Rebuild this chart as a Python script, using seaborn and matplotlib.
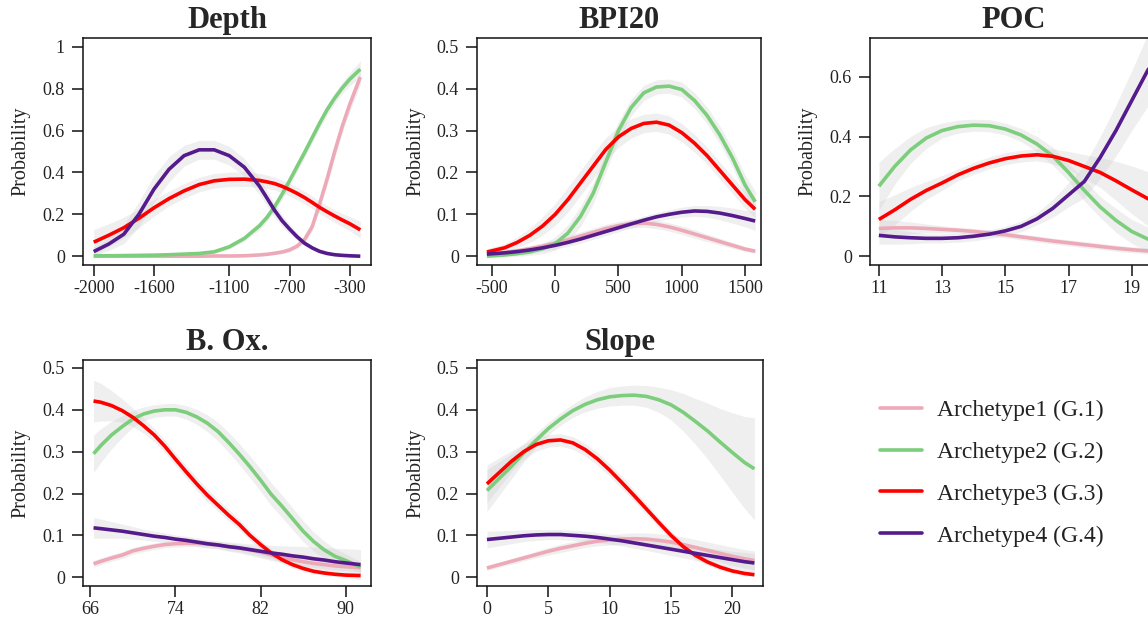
import matplotlib
matplotlib.use("Agg")
import matplotlib.pyplot as plt
import pandas as pd
import seaborn as sns
from matplotlib.lines import Line2D

# ---------------- data ----------------
series_labels = ["Archetype1 (G.1)", "Archetype2 (G.2)", "Archetype3 (G.3)", "Archetype4 (G.4)"]
series_colors = ["#EEA9B8", "#7CCD7C", "#FF0000", "#551A8B"]
panel_titles = ["Depth", "BPI20", "POC", "B. Ox.", "Slope"]
y_label = "Probability"

# Depth
depth_x = [-2000, -1900, -1800, -1700, -1600, -1500, -1400, -1300, -1200, -1100, -1000, -900,
           -850, -800, -750, -700, -650, -600, -550, -500, -450, -400, -350, -300, -230]
depth_g1 = [0, 0, 0, 0, 0, 0, 0, 0, 0.001, 0.001, 0.002, 0.006,
            0.009, 0.014, 0.02, 0.03, 0.048, 0.08, 0.14, 0.25, 0.37, 0.5, 0.62, 0.725, 0.855]
depth_g2 = [0.002, 0.002, 0.003, 0.004, 0.005, 0.007, 0.01, 0.013, 0.021, 0.045, 0.085, 0.145,
            0.185, 0.235, 0.295, 0.36, 0.428, 0.495, 0.565, 0.635, 0.7, 0.755, 0.803, 0.845, 0.893]
depth_g3 = [0.067, 0.1, 0.136, 0.181, 0.231, 0.275, 0.312, 0.342, 0.36, 0.367, 0.368, 0.362,
            0.355, 0.347, 0.334, 0.318, 0.3, 0.28, 0.257, 0.233, 0.212, 0.192, 0.173, 0.155, 0.126]
depth_g4 = [0.022, 0.058, 0.105, 0.2, 0.32, 0.415, 0.48, 0.508, 0.508, 0.48, 0.425, 0.335,
            0.278, 0.22, 0.17, 0.13, 0.093, 0.062, 0.04, 0.023, 0.013, 0.007, 0.004, 0.002, 0.0]
depth_g1_ci = [0.002, 0.002, 0.002, 0.002, 0.002, 0.002, 0.002, 0.002, 0.002, 0.002, 0.003, 0.004,
               0.005, 0.006, 0.008, 0.01, 0.013, 0.016, 0.02, 0.024, 0.028, 0.03, 0.032, 0.033, 0.035]
depth_g2_ci = [0.003, 0.003, 0.003, 0.003, 0.004, 0.004, 0.005, 0.006, 0.008, 0.01, 0.014, 0.018,
               0.02, 0.022, 0.024, 0.025, 0.025, 0.025, 0.025, 0.025, 0.025, 0.025, 0.027, 0.03, 0.04]
depth_g3_ci = [0.06, 0.055, 0.05, 0.045, 0.04, 0.035, 0.035, 0.035, 0.035, 0.035, 0.035, 0.033,
               0.032, 0.031, 0.03, 0.03, 0.03, 0.03, 0.03, 0.03, 0.03, 0.03, 0.032, 0.034, 0.04]
depth_g4_ci = [0.02, 0.03, 0.045, 0.06, 0.065, 0.06, 0.05, 0.045, 0.045, 0.045, 0.042, 0.04,
               0.037, 0.033, 0.028, 0.023, 0.018, 0.013, 0.009, 0.006, 0.004, 0.003, 0.002, 0.001, 0.001]

# BPI20
bpi_x = [-540, -400, -300, -200, -100, 0, 100, 200, 300, 400, 500, 600, 700, 800, 900, 1000,
         1100, 1200, 1300, 1400, 1500, 1580]
bpi_g1 = [0.005, 0.009, 0.013, 0.018, 0.024, 0.031, 0.039, 0.048, 0.057, 0.066, 0.073, 0.078,
          0.079, 0.076, 0.07, 0.062, 0.053, 0.044, 0.035, 0.026, 0.017, 0.012]
bpi_g2 = [0.0, 0.003, 0.006, 0.01, 0.018, 0.03, 0.055, 0.095, 0.15, 0.225, 0.3, 0.355,
          0.39, 0.404, 0.406, 0.398, 0.372, 0.336, 0.29, 0.235, 0.17, 0.13]
bpi_g3 = [0.01, 0.02, 0.033, 0.05, 0.072, 0.1, 0.135, 0.175, 0.215, 0.255, 0.285, 0.305,
          0.317, 0.32, 0.313, 0.295, 0.27, 0.24, 0.205, 0.17, 0.135, 0.112]
bpi_g4 = [0.005, 0.008, 0.011, 0.015, 0.02, 0.026, 0.033, 0.041, 0.05, 0.059, 0.068, 0.077,
          0.086, 0.094, 0.1, 0.105, 0.108, 0.107, 0.103, 0.097, 0.09, 0.084]
bpi_g1_ci = [0.004, 0.005, 0.006, 0.007, 0.008, 0.009, 0.01, 0.01, 0.01, 0.01, 0.01, 0.01,
             0.01, 0.01, 0.01, 0.01, 0.01, 0.009, 0.008, 0.007, 0.006, 0.005]
bpi_g2_ci = [0.003, 0.005, 0.006, 0.008, 0.012, 0.016, 0.02, 0.024, 0.025, 0.024, 0.022, 0.02,
             0.018, 0.017, 0.017, 0.018, 0.019, 0.02, 0.021, 0.022, 0.024, 0.025]
bpi_g3_ci = [0.008, 0.01, 0.013, 0.017, 0.022, 0.026, 0.03, 0.03, 0.03, 0.028, 0.025, 0.023,
             0.022, 0.022, 0.022, 0.022, 0.021, 0.02, 0.02, 0.02, 0.02, 0.02]
bpi_g4_ci = [0.004, 0.005, 0.006, 0.007, 0.008, 0.009, 0.01, 0.01, 0.01, 0.01, 0.01, 0.01,
             0.01, 0.01, 0.011, 0.012, 0.013, 0.014, 0.016, 0.018, 0.02, 0.022]

# POC
poc_x = [11, 11.5, 12, 12.5, 13, 13.5, 14, 14.5, 15, 15.5, 16, 16.5, 17, 17.5, 18, 18.5, 19, 19.5, 19.8]
poc_g1 = [0.093, 0.095, 0.095, 0.093, 0.09, 0.087, 0.083, 0.078, 0.072, 0.065, 0.058, 0.051,
          0.045, 0.039, 0.033, 0.027, 0.022, 0.018, 0.016]
poc_g2 = [0.234, 0.3, 0.355, 0.395, 0.42, 0.433, 0.438, 0.436, 0.425, 0.405, 0.375, 0.335,
          0.28, 0.22, 0.165, 0.12, 0.083, 0.058, 0.05]
poc_g3 = [0.123, 0.155, 0.19, 0.22, 0.245, 0.272, 0.294, 0.312, 0.326, 0.335, 0.339, 0.334,
          0.32, 0.3, 0.28, 0.252, 0.222, 0.193, 0.178]
poc_g4 = [0.07, 0.065, 0.062, 0.06, 0.06, 0.062, 0.067, 0.074, 0.085, 0.1, 0.125, 0.16,
          0.205, 0.25, 0.33, 0.42, 0.52, 0.62, 0.67]
poc_g1_ci = [0.03, 0.025, 0.02, 0.015, 0.012, 0.01, 0.01, 0.01, 0.01, 0.01, 0.01, 0.01,
             0.01, 0.01, 0.01, 0.01, 0.01, 0.01, 0.01]
poc_g2_ci = [0.08, 0.06, 0.045, 0.035, 0.025, 0.022, 0.02, 0.02, 0.02, 0.022, 0.025, 0.03,
             0.03, 0.035, 0.035, 0.04, 0.04, 0.04, 0.04]
poc_g3_ci = [0.06, 0.05, 0.04, 0.03, 0.025, 0.02, 0.02, 0.02, 0.02, 0.02, 0.02, 0.025,
             0.03, 0.04, 0.05, 0.065, 0.08, 0.09, 0.095]
poc_g4_ci = [0.03, 0.025, 0.02, 0.015, 0.015, 0.015, 0.015, 0.015, 0.015, 0.018, 0.02, 0.03,
             0.04, 0.055, 0.07, 0.085, 0.1, 0.12, 0.13]

# B. Ox.
box_x = [66.3, 67, 68, 69, 70, 71, 72, 73, 74, 75, 76, 77, 78, 79, 80, 81, 82, 83, 84, 85,
         86, 87, 88, 89, 90, 91.4]
box_g1 = [0.032, 0.038, 0.046, 0.053, 0.063, 0.069, 0.074, 0.078, 0.08, 0.081, 0.081, 0.079,
          0.077, 0.073, 0.07, 0.065, 0.06, 0.053, 0.047, 0.042, 0.037, 0.033, 0.03, 0.027, 0.025, 0.023]
box_g2 = [0.295, 0.315, 0.34, 0.36, 0.378, 0.39, 0.397, 0.4, 0.4, 0.394, 0.383, 0.368,
          0.348, 0.322, 0.294, 0.264, 0.232, 0.198, 0.17, 0.14, 0.11, 0.085, 0.065, 0.05, 0.04, 0.024]
box_g3 = [0.421, 0.418, 0.41, 0.398, 0.382, 0.362, 0.34, 0.313, 0.282, 0.252, 0.223, 0.196,
          0.172, 0.148, 0.126, 0.1, 0.078, 0.058, 0.042, 0.03, 0.021, 0.014, 0.01, 0.007, 0.005, 0.004]
box_g4 = [0.118, 0.116, 0.113, 0.11, 0.106, 0.102, 0.098, 0.095, 0.091, 0.088, 0.084, 0.08,
          0.077, 0.073, 0.07, 0.066, 0.062, 0.058, 0.055, 0.051, 0.048, 0.044, 0.041, 0.037, 0.034, 0.03]
box_g1_ci = [0.008, 0.008, 0.008, 0.008, 0.008, 0.008, 0.008, 0.008, 0.008, 0.008, 0.008, 0.008,
             0.008, 0.009, 0.009, 0.01, 0.01, 0.01, 0.01, 0.01, 0.01, 0.01, 0.01, 0.01, 0.01, 0.01]
box_g2_ci = [0.045, 0.04, 0.033, 0.026, 0.02, 0.017, 0.015, 0.015, 0.015, 0.016, 0.018, 0.02,
             0.022, 0.024, 0.025, 0.026, 0.027, 0.027, 0.027, 0.026, 0.025, 0.023, 0.021, 0.018, 0.016, 0.014]
box_g3_ci = [0.05, 0.045, 0.036, 0.028, 0.022, 0.018, 0.016, 0.015, 0.015, 0.015, 0.015, 0.015,
             0.014, 0.014, 0.013, 0.012, 0.011, 0.01, 0.009, 0.008, 0.007, 0.006, 0.005, 0.005, 0.004, 0.004]
box_g4_ci = [0.025, 0.023, 0.02, 0.017, 0.015, 0.013, 0.012, 0.011, 0.01, 0.01, 0.01, 0.01,
             0.01, 0.011, 0.012, 0.014, 0.016, 0.018, 0.02, 0.023, 0.026, 0.028, 0.03, 0.032, 0.034, 0.036]

# Slope
slope_x = [0, 1, 2, 3, 4, 5, 6, 7, 8, 9, 10, 11, 12, 13, 14, 15, 16, 17, 18, 19, 20, 21, 21.8]
slope_g1 = [0.022, 0.03, 0.038, 0.046, 0.054, 0.062, 0.069, 0.075, 0.081, 0.086, 0.089, 0.091,
            0.092, 0.091, 0.088, 0.084, 0.078, 0.071, 0.064, 0.057, 0.05, 0.044, 0.04]
slope_g2 = [0.207, 0.236, 0.265, 0.297, 0.327, 0.355, 0.378, 0.398, 0.413, 0.424, 0.431, 0.434,
            0.435, 0.432, 0.424, 0.412, 0.394, 0.372, 0.349, 0.323, 0.298, 0.274, 0.259]
slope_g3 = [0.223, 0.25, 0.277, 0.3, 0.317, 0.326, 0.328, 0.321, 0.305, 0.283, 0.256, 0.226,
            0.195, 0.163, 0.131, 0.1, 0.073, 0.052, 0.036, 0.024, 0.015, 0.009, 0.006]
slope_g4 = [0.09, 0.093, 0.096, 0.099, 0.101, 0.102, 0.102, 0.1, 0.098, 0.095, 0.091, 0.087,
            0.082, 0.077, 0.072, 0.067, 0.062, 0.057, 0.052, 0.047, 0.042, 0.037, 0.034]
slope_g1_ci = [0.006, 0.006, 0.007, 0.007, 0.008, 0.009, 0.01, 0.01, 0.01, 0.011, 0.012, 0.013,
               0.014, 0.015, 0.016, 0.017, 0.018, 0.019, 0.02, 0.021, 0.022, 0.022, 0.023]
slope_g2_ci = [0.05, 0.04, 0.03, 0.022, 0.017, 0.015, 0.015, 0.016, 0.018, 0.02, 0.022, 0.023,
               0.024, 0.026, 0.03, 0.036, 0.045, 0.055, 0.067, 0.08, 0.095, 0.11, 0.122]
slope_g3_ci = [0.045, 0.035, 0.025, 0.018, 0.016, 0.015, 0.015, 0.015, 0.015, 0.015, 0.015, 0.015,
               0.014, 0.013, 0.012, 0.011, 0.01, 0.009, 0.008, 0.007, 0.006, 0.005, 0.005]
slope_g4_ci = [0.02, 0.018, 0.016, 0.014, 0.013, 0.012, 0.012, 0.012, 0.012, 0.012, 0.012, 0.012,
               0.013, 0.013, 0.014, 0.015, 0.016, 0.017, 0.018, 0.019, 0.02, 0.022, 0.023]

depth_xticks = [-2000, -1600, -1100, -700, -300]
bpi_xticks = [-500, 0, 500, 1000, 1500]
poc_xticks = [11, 13, 15, 17, 19]
box_xticks = [66, 74, 82, 90]
slope_xticks = [0, 5, 10, 15, 20]
depth_yticks = [0, 0.2, 0.4, 0.6, 0.8, 1]
bpi_yticks = [0, 0.1, 0.2, 0.3, 0.4, 0.5]
poc_yticks = [0, 0.2, 0.4, 0.6]
box_yticks = [0, 0.1, 0.2, 0.3, 0.4, 0.5]
slope_yticks = [0, 0.1, 0.2, 0.3, 0.4, 0.5]

# ---------------- style ----------------
sns.set_style("ticks")
plt.rcParams["font.family"] = ["Liberation Serif", "DejaVu Serif"]
plt.rcParams["axes.linewidth"] = 1.1

W, H = 1148, 625
fig = plt.figure(figsize=(W / 100, H / 100), dpi=100)


def rect(l, t, r, b):
    return [l / W, 1 - b / H, (r - l) / W, (b - t) / H]


panels = [
    (panel_titles[0], depth_x, [depth_g1, depth_g2, depth_g3, depth_g4],
     [depth_g1_ci, depth_g2_ci, depth_g3_ci, depth_g4_ci], depth_xticks, depth_yticks,
     (-2071, -159), (-0.042, 1.042), rect(83, 38, 371, 265)),
    (panel_titles[1], bpi_x, [bpi_g1, bpi_g2, bpi_g3, bpi_g4],
     [bpi_g1_ci, bpi_g2_ci, bpi_g3_ci, bpi_g4_ci], bpi_xticks, bpi_yticks,
     (-618, 1626), (-0.021, 0.521), rect(477, 38, 761, 265)),
    (panel_titles[2], poc_x, [poc_g1, poc_g2, poc_g3, poc_g4],
     [poc_g1_ci, poc_g2_ci, poc_g3_ci, poc_g4_ci], poc_xticks, poc_yticks,
     (10.72, 19.83), (-0.029, 0.729), rect(870, 38, 1158, 265)),
    (panel_titles[3], box_x, [box_g1, box_g2, box_g3, box_g4],
     [box_g1_ci, box_g2_ci, box_g3_ci, box_g4_ci], box_xticks, box_yticks,
     (65.31, 92.38), (-0.021, 0.519), rect(83, 360, 371, 586)),
    (panel_titles[4], slope_x, [slope_g1, slope_g2, slope_g3, slope_g4],
     [slope_g1_ci, slope_g2_ci, slope_g3_ci, slope_g4_ci], slope_xticks, slope_yticks,
     (-0.81, 22.5), (-0.021, 0.519), rect(477, 360, 763, 586)),
]

for title, xs, ys, cis, xt, yt, xl, yl, r in panels:
    ax = fig.add_axes(r)
    frames = []
    for lab, y, ci in zip(series_labels, ys, cis):
        frames.append(pd.DataFrame({"x": xs, "p": y, "ci": ci, "series": lab}))
    df = pd.concat(frames, ignore_index=True)
    df["lo"] = df["p"] - df["ci"]
    df["hi"] = df["p"] + df["ci"]
    for lab in series_labels:
        d = df[df["series"] == lab]
        ax.fill_between(d["x"], d["lo"], d["hi"], color="#cfcfcf", alpha=0.32, lw=0, zorder=1)
    sns.lineplot(data=df, x="x", y="p", hue="series", hue_order=series_labels,
                 palette=series_colors, linewidth=2.6, legend=False, ax=ax,
                 estimator=None, sort=False, zorder=3,
                 solid_joinstyle="round", solid_capstyle="butt")
    ax.set_xlim(*xl)
    ax.set_ylim(*yl)
    ax.set_xticks(xt)
    ax.set_xticklabels([f"{v:g}" for v in xt])
    ax.set_yticks(yt)
    ax.set_yticklabels([f"{v:g}" for v in yt])
    ax.tick_params(axis="both", direction="out", length=8, width=1.1, labelsize=13,
                   colors="#111111", labelcolor="#222222")
    ax.tick_params(axis="y", pad=5)
    ax.tick_params(axis="x", pad=3)
    for s in ax.spines.values():
        s.set_visible(True)
        s.set_linewidth(1.1)
        s.set_color("#111111")
    ax.set_xlabel("")
    ax.set_ylabel(y_label, fontsize=14.5, color="#222222")
    ax.yaxis.set_label_coords(-0.215, 0.5)
    ax.yaxis.label.set_verticalalignment("center")
    ax.set_title(title, fontsize=22, fontweight="bold", pad=7)

handles = [Line2D([0], [0], color=c, lw=2.6) for c in series_colors]
fig.legend(handles, series_labels, loc="center left", bbox_to_anchor=(880 / W, 1 - 473 / H),
           frameon=False, fontsize=17, handlelength=1.78, handletextpad=0.64,
           labelspacing=0.86, borderpad=0, borderaxespad=0, labelcolor="#222222")

fig.savefig("out.png", dpi=100)
